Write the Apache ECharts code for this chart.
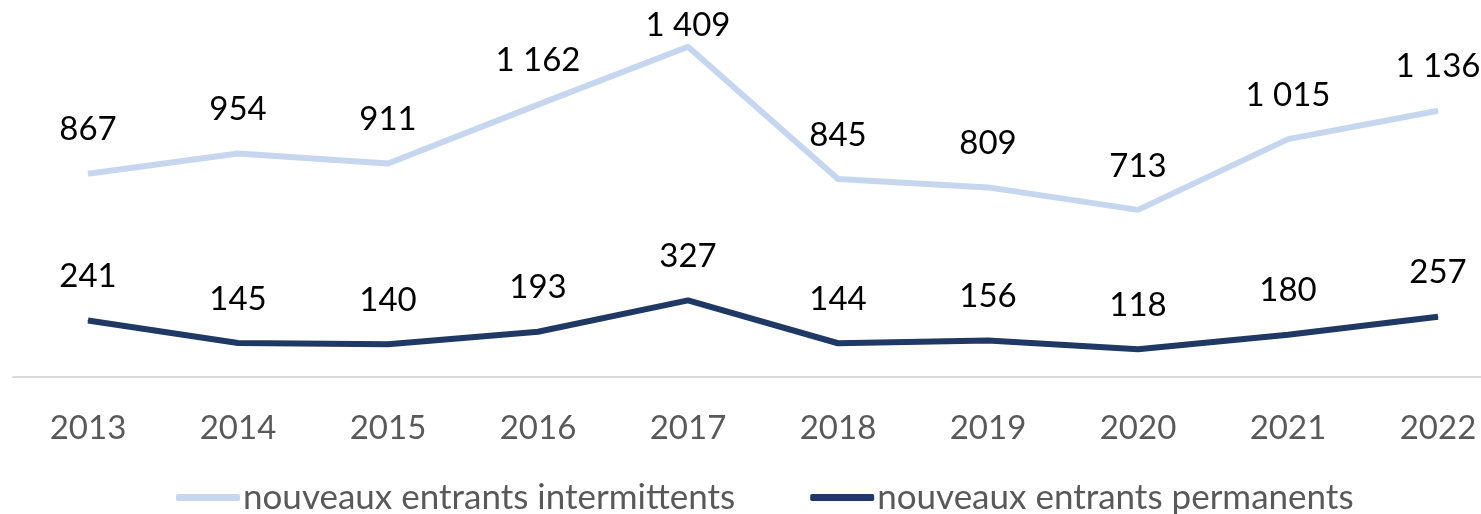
<!DOCTYPE html>
<html><head><meta charset="utf-8">
<script src="https://cdn.jsdelivr.net/npm/echarts@6/dist/echarts.min.js"></script>
<style>html,body{margin:0;padding:0;background:#fff}#c{width:1481px;height:514px}</style>
</head><body><div id="c"></div>
<script>
var categories = ['2013','2014','2015','2016','2017','2018','2019','2020','2021','2022'];
var intermittents = [867, 954, 911, 1162, 1409, 845, 809, 713, 1015, 1136];
var permanents = [241, 145, 140, 193, 327, 144, 156, 118, 180, 257];
var seriesNames = ['nouveaux entrants intermittents', 'nouveaux entrants permanents'];

var FONT = 'Lato';
function fmt(v){ return String(v).replace(/\B(?=(\d{3})+(?!\d))/g, ' '); }
function items(arr, special){
  return arr.map(function(v,i){
    var o = {value: v};
    if (special && special[i] !== undefined) o.label = {distance: special[i]};
    return o;
  });
}
var chart = echarts.init(document.getElementById('c'));
var labelStyle = {show:true, position:'top', distance:27, color:'#000', fontFamily:FONT, fontSize:33,
  formatter:function(p){return fmt(p.value);}};
chart.setOption({
  animation:false,
  grid:{left:13, right:-32, top:2, bottom:137, outerBoundsMode:'none', containLabel:false},
  xAxis:{type:'category', data:categories, boundaryGap:true,
    axisLine:{lineStyle:{color:'#D9D9D9', width:2}}, axisTick:{show:false},
    axisLabel:{color:'#595959', fontFamily:FONT, fontSize:33, margin:35}},
  yAxis:{type:'value', min:0, max:1600, show:false, splitLine:{show:false}},
  legend:{left:171, top:475, itemWidth:64, itemHeight:7, itemGap:75, icon:'roundRect',
    textStyle:{color:'#595959', fontFamily:FONT, fontSize:35, padding:[0,0,0,-2]},
    data:seriesNames},
  series:[
    {name:seriesNames[0], type:'line', data:items(intermittents,{4:4}), symbol:'circle', symbolSize:1,
      lineStyle:{color:'#C6D6EF', width:6}, itemStyle:{color:'#C6D6EF'}, label:labelStyle},
    {name:seriesNames[1], type:'line', data:items(permanents), symbol:'circle', symbolSize:1,
      lineStyle:{color:'#1F3864', width:6}, itemStyle:{color:'#1F3864'}, label:labelStyle}
  ]
});
</script></body></html>
